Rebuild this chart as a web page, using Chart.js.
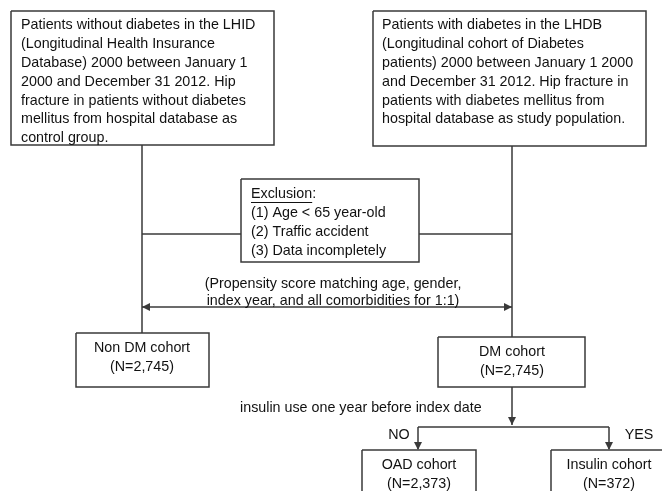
<!DOCTYPE html>
<html>
<head>
<meta charset="utf-8">
<script src="https://cdn.jsdelivr.net/npm/chart.js@4.4.1/dist/chart.umd.min.js"></script>
<style>
  html, body { margin: 0; padding: 0; background: #fff; }
  #wrap { width: 662px; height: 491px; }
</style>
</head>
<body>
<div id="wrap"><canvas id="flow"></canvas></div>
<script>
// Text of the flow chart
const controlSource = [
    "Patients without diabetes in the LHID",
    "(Longitudinal Health Insurance",
    "Database) 2000 between January 1",
    "2000 and December 31 2012. Hip",
    "fracture in patients without diabetes",
    "mellitus from hospital database as",
    "control group."
];
const studySource = [
    "Patients with diabetes in the LHDB",
    "(Longitudinal cohort of Diabetes",
    "patients) 2000 between January 1 2000",
    "and December 31 2012. Hip fracture in",
    "patients with diabetes mellitus from",
    "hospital database as study population."
];
const exclusionTitle = "Exclusion";
const exclusionItems = ["(1) Age < 65 year-old", "(2) Traffic accident", "(3) Data incompletely"];
const matchingNote = ["(Propensity score matching age, gender,", "index year, and all comorbidities for 1:1)"];
const cohortNames = ["Non DM cohort", "DM cohort", "OAD cohort", "Insulin cohort"];
const cohortSizes = ["2,745", "2,745", "2,373", "372"];
const splitQuestion = "insulin use one year before index date";
const branchLabels = ["NO", "YES"];

// Layout in chart units (x: 0..662, y: 0..491 top-down)
const boxes = [
    [11, 11, 274, 145],   // control source
    [373, 11, 646, 146],  // study source
    [241, 179, 419, 262], // exclusion
    [76, 333, 209, 387],  // non DM
    [438, 337, 585, 387], // DM
    [362, 450, 476, 505], // OAD
    [551, 450, 667, 505]  // insulin
];
const connectors = [
    [[142, 145], [142, 333]],
    [[512, 146], [512, 337]],
    [[142, 234], [241, 234]],
    [[419, 234], [512, 234]],
    [[142, 307], [512, 307]],
    [[512, 387], [512, 425]],
    [[418, 427], [609, 427]],
    [[418, 427], [418, 449]],
    [[609, 427], [609, 449]]
];
// arrow tips: [x, y, direction]
const arrowTips = [
    [142, 307, 'left'], [512, 307, 'right'],
    [512, 425, 'down'], [418, 450, 'down'], [609, 450, 'down']
];

const LINE = '#3a3a3a';
const TEXT = '#111';
const FONT = '14.3px "Liberation Sans", Arial, sans-serif';

function rectPoints(b) {
    return [
        { x: b[0], y: b[1] }, { x: b[2], y: b[1] },
        { x: b[2], y: b[3] }, { x: b[0], y: b[3] }, { x: b[0], y: b[1] }
    ];
}

const datasets = [];
boxes.forEach(b => datasets.push({ data: rectPoints(b) }));
connectors.forEach(c => datasets.push({ data: c.map(p => ({ x: p[0], y: p[1] })) }));
datasets.forEach(d => {
    d.showLine = true;
    d.borderColor = LINE;
    d.borderWidth = 1.5;
    d.pointRadius = 0;
    d.tension = 0;
    d.fill = false;
});

const flowText = {
    id: 'flowText',
    afterDatasetsDraw(chart) {
        const ctx = chart.ctx;
        const sx = v => chart.scales.x.getPixelForValue(v);
        const sy = v => chart.scales.y.getPixelForValue(v);
        ctx.save();

        // arrow heads
        ctx.fillStyle = LINE;
        arrowTips.forEach(([x, y, dir]) => {
            const px = sx(x), py = sy(y), L = 8, W = 4;
            ctx.beginPath();
            ctx.moveTo(px, py);
            if (dir === 'left') { ctx.lineTo(px + L, py - W); ctx.lineTo(px + L, py + W); }
            if (dir === 'right') { ctx.lineTo(px - L, py - W); ctx.lineTo(px - L, py + W); }
            if (dir === 'down') { ctx.lineTo(px - W, py - L); ctx.lineTo(px + W, py - L); }
            ctx.closePath();
            ctx.fill();
        });

        ctx.fillStyle = TEXT;
        ctx.font = FONT;
        ctx.textBaseline = 'middle';

        ctx.textAlign = 'left';
        controlSource.forEach((t, i) => ctx.fillText(t, sx(21), sy(25 + i * 18.9)));
        studySource.forEach((t, i) => ctx.fillText(t, sx(382), sy(25 + i * 18.9)));

        // exclusion box
        ctx.fillText(exclusionTitle + ':', sx(251), sy(194));
        const uw = ctx.measureText(exclusionTitle).width;
        ctx.strokeStyle = TEXT;
        ctx.lineWidth = 1;
        ctx.beginPath();
        ctx.moveTo(sx(251), sy(202) + 0.5);
        ctx.lineTo(sx(251) + uw, sy(202) + 0.5);
        ctx.stroke();
        exclusionItems.forEach((t, i) => ctx.fillText(t, sx(251), sy(213 + i * 18.9)));

        ctx.fillText(splitQuestion, sx(240), sy(408));

        ctx.textAlign = 'center';
        matchingNote.forEach((t, i) => ctx.fillText(t, sx(333), sy(284 + i * 17)));

        const centers = [[142, 348], [512, 352], [419, 465], [609, 465]];
        cohortNames.forEach((name, i) => {
            const [cx, cy] = centers[i];
            ctx.fillText(name, sx(cx), sy(cy));
            ctx.fillText('(N=' + cohortSizes[i] + ')', sx(cx), sy(cy + 19));
        });

        ctx.fillText(branchLabels[0], sx(399), sy(435));
        ctx.fillText(branchLabels[1], sx(639), sy(435));
        ctx.restore();
    }
};

new Chart(document.getElementById('flow'), {
    type: 'scatter',
    data: { datasets: datasets },
    options: {
        animation: false,
        responsive: true,
        maintainAspectRatio: false,
        layout: { padding: 0 },
        scales: {
            x: { type: 'linear', min: 0, max: 662, display: false },
            y: { type: 'linear', min: 0, max: 491, reverse: true, display: false }
        },
        plugins: { legend: { display: false }, tooltip: { enabled: false } }
    },
    plugins: [flowText]
});
</script>
</body>
</html>
